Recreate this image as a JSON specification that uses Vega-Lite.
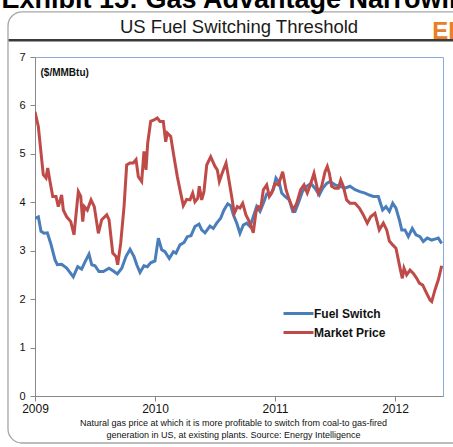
{
  "$schema": "https://vega.github.io/schema/vega-lite/v6.json",
  "width": 408,
  "height": 339,
  "autosize": "none",
  "padding": {"left": 35, "top": 57, "right": 10, "bottom": 51},
  "background": "white",
  "title": {"text": "US Fuel Switching Threshold", "font": "Liberation Sans", "fontSize": 18.5, "fontWeight": "normal", "color": "#1a1a1a", "anchor": "middle", "frame": "group", "offset": -50},
  "config": {"view": {"stroke": "#8eaadb", "strokeWidth": 1}, "font": "Liberation Sans"},
  "datasets": {
    "prices": [
      {"year": 2009.000, "series": "Fuel Switch", "price": 3.67},
      {"year": 2009.028, "series": "Fuel Switch", "price": 3.70},
      {"year": 2009.050, "series": "Fuel Switch", "price": 3.40},
      {"year": 2009.075, "series": "Fuel Switch", "price": 3.36},
      {"year": 2009.103, "series": "Fuel Switch", "price": 3.37},
      {"year": 2009.131, "series": "Fuel Switch", "price": 3.15},
      {"year": 2009.167, "series": "Fuel Switch", "price": 2.81},
      {"year": 2009.186, "series": "Fuel Switch", "price": 2.71},
      {"year": 2009.222, "series": "Fuel Switch", "price": 2.72},
      {"year": 2009.264, "series": "Fuel Switch", "price": 2.64},
      {"year": 2009.319, "series": "Fuel Switch", "price": 2.46},
      {"year": 2009.356, "series": "Fuel Switch", "price": 2.67},
      {"year": 2009.389, "series": "Fuel Switch", "price": 2.62},
      {"year": 2009.417, "series": "Fuel Switch", "price": 2.77},
      {"year": 2009.450, "series": "Fuel Switch", "price": 2.93},
      {"year": 2009.473, "series": "Fuel Switch", "price": 2.71},
      {"year": 2009.500, "series": "Fuel Switch", "price": 2.69},
      {"year": 2009.533, "series": "Fuel Switch", "price": 2.57},
      {"year": 2009.569, "series": "Fuel Switch", "price": 2.57},
      {"year": 2009.617, "series": "Fuel Switch", "price": 2.64},
      {"year": 2009.653, "series": "Fuel Switch", "price": 2.58},
      {"year": 2009.686, "series": "Fuel Switch", "price": 2.52},
      {"year": 2009.723, "series": "Fuel Switch", "price": 2.64},
      {"year": 2009.758, "series": "Fuel Switch", "price": 2.88},
      {"year": 2009.792, "series": "Fuel Switch", "price": 3.03},
      {"year": 2009.825, "series": "Fuel Switch", "price": 2.88},
      {"year": 2009.848, "series": "Fuel Switch", "price": 2.71},
      {"year": 2009.875, "series": "Fuel Switch", "price": 2.55},
      {"year": 2009.908, "series": "Fuel Switch", "price": 2.69},
      {"year": 2009.936, "series": "Fuel Switch", "price": 2.67},
      {"year": 2009.964, "series": "Fuel Switch", "price": 2.75},
      {"year": 2010.000, "series": "Fuel Switch", "price": 2.79},
      {"year": 2010.028, "series": "Fuel Switch", "price": 3.26},
      {"year": 2010.056, "series": "Fuel Switch", "price": 3.02},
      {"year": 2010.083, "series": "Fuel Switch", "price": 2.98},
      {"year": 2010.119, "series": "Fuel Switch", "price": 2.84},
      {"year": 2010.153, "series": "Fuel Switch", "price": 2.98},
      {"year": 2010.175, "series": "Fuel Switch", "price": 2.95},
      {"year": 2010.208, "series": "Fuel Switch", "price": 3.12},
      {"year": 2010.242, "series": "Fuel Switch", "price": 3.17},
      {"year": 2010.269, "series": "Fuel Switch", "price": 3.29},
      {"year": 2010.300, "series": "Fuel Switch", "price": 3.31},
      {"year": 2010.333, "series": "Fuel Switch", "price": 3.50},
      {"year": 2010.367, "series": "Fuel Switch", "price": 3.55},
      {"year": 2010.389, "series": "Fuel Switch", "price": 3.43},
      {"year": 2010.417, "series": "Fuel Switch", "price": 3.37},
      {"year": 2010.458, "series": "Fuel Switch", "price": 3.51},
      {"year": 2010.486, "series": "Fuel Switch", "price": 3.46},
      {"year": 2010.514, "series": "Fuel Switch", "price": 3.57},
      {"year": 2010.547, "series": "Fuel Switch", "price": 3.67},
      {"year": 2010.575, "series": "Fuel Switch", "price": 3.84},
      {"year": 2010.606, "series": "Fuel Switch", "price": 3.97},
      {"year": 2010.631, "series": "Fuel Switch", "price": 3.93},
      {"year": 2010.653, "series": "Fuel Switch", "price": 3.74},
      {"year": 2010.681, "series": "Fuel Switch", "price": 3.57},
      {"year": 2010.708, "series": "Fuel Switch", "price": 3.36},
      {"year": 2010.736, "series": "Fuel Switch", "price": 3.53},
      {"year": 2010.764, "series": "Fuel Switch", "price": 3.57},
      {"year": 2010.792, "series": "Fuel Switch", "price": 3.50},
      {"year": 2010.819, "series": "Fuel Switch", "price": 3.70},
      {"year": 2010.847, "series": "Fuel Switch", "price": 3.91},
      {"year": 2010.875, "series": "Fuel Switch", "price": 3.81},
      {"year": 2010.903, "series": "Fuel Switch", "price": 3.98},
      {"year": 2010.931, "series": "Fuel Switch", "price": 4.17},
      {"year": 2010.958, "series": "Fuel Switch", "price": 4.15},
      {"year": 2010.986, "series": "Fuel Switch", "price": 4.26},
      {"year": 2011.008, "series": "Fuel Switch", "price": 4.50},
      {"year": 2011.036, "series": "Fuel Switch", "price": 4.40},
      {"year": 2011.056, "series": "Fuel Switch", "price": 4.19},
      {"year": 2011.083, "series": "Fuel Switch", "price": 4.12},
      {"year": 2011.119, "series": "Fuel Switch", "price": 4.05},
      {"year": 2011.148, "series": "Fuel Switch", "price": 3.81},
      {"year": 2011.167, "series": "Fuel Switch", "price": 3.81},
      {"year": 2011.194, "series": "Fuel Switch", "price": 3.98},
      {"year": 2011.228, "series": "Fuel Switch", "price": 4.22},
      {"year": 2011.264, "series": "Fuel Switch", "price": 4.33},
      {"year": 2011.298, "series": "Fuel Switch", "price": 4.39},
      {"year": 2011.333, "series": "Fuel Switch", "price": 4.29},
      {"year": 2011.369, "series": "Fuel Switch", "price": 4.15},
      {"year": 2011.397, "series": "Fuel Switch", "price": 4.29},
      {"year": 2011.431, "series": "Fuel Switch", "price": 4.39},
      {"year": 2011.458, "series": "Fuel Switch", "price": 4.43},
      {"year": 2011.500, "series": "Fuel Switch", "price": 4.36},
      {"year": 2011.542, "series": "Fuel Switch", "price": 4.33},
      {"year": 2011.583, "series": "Fuel Switch", "price": 4.29},
      {"year": 2011.625, "series": "Fuel Switch", "price": 4.33},
      {"year": 2011.667, "series": "Fuel Switch", "price": 4.26},
      {"year": 2011.708, "series": "Fuel Switch", "price": 4.22},
      {"year": 2011.750, "series": "Fuel Switch", "price": 4.19},
      {"year": 2011.786, "series": "Fuel Switch", "price": 4.15},
      {"year": 2011.819, "series": "Fuel Switch", "price": 4.12},
      {"year": 2011.861, "series": "Fuel Switch", "price": 4.12},
      {"year": 2011.897, "series": "Fuel Switch", "price": 3.84},
      {"year": 2011.925, "series": "Fuel Switch", "price": 3.91},
      {"year": 2011.953, "series": "Fuel Switch", "price": 3.81},
      {"year": 2011.981, "series": "Fuel Switch", "price": 3.98},
      {"year": 2012.008, "series": "Fuel Switch", "price": 3.88},
      {"year": 2012.036, "series": "Fuel Switch", "price": 3.64},
      {"year": 2012.056, "series": "Fuel Switch", "price": 3.43},
      {"year": 2012.083, "series": "Fuel Switch", "price": 3.43},
      {"year": 2012.111, "series": "Fuel Switch", "price": 3.29},
      {"year": 2012.144, "series": "Fuel Switch", "price": 3.46},
      {"year": 2012.175, "series": "Fuel Switch", "price": 3.33},
      {"year": 2012.208, "series": "Fuel Switch", "price": 3.29},
      {"year": 2012.236, "series": "Fuel Switch", "price": 3.19},
      {"year": 2012.269, "series": "Fuel Switch", "price": 3.26},
      {"year": 2012.306, "series": "Fuel Switch", "price": 3.22},
      {"year": 2012.333, "series": "Fuel Switch", "price": 3.24},
      {"year": 2012.361, "series": "Fuel Switch", "price": 3.26},
      {"year": 2012.389, "series": "Fuel Switch", "price": 3.15},
      {"year": 2009.000, "series": "Market Price", "price": 5.87},
      {"year": 2009.028, "series": "Market Price", "price": 5.56},
      {"year": 2009.056, "series": "Market Price", "price": 4.88},
      {"year": 2009.069, "series": "Market Price", "price": 4.57},
      {"year": 2009.092, "series": "Market Price", "price": 4.50},
      {"year": 2009.106, "series": "Market Price", "price": 4.71},
      {"year": 2009.125, "series": "Market Price", "price": 4.43},
      {"year": 2009.148, "series": "Market Price", "price": 4.12},
      {"year": 2009.175, "series": "Market Price", "price": 4.12},
      {"year": 2009.194, "series": "Market Price", "price": 3.91},
      {"year": 2009.222, "series": "Market Price", "price": 4.15},
      {"year": 2009.236, "series": "Market Price", "price": 3.84},
      {"year": 2009.264, "series": "Market Price", "price": 3.70},
      {"year": 2009.298, "series": "Market Price", "price": 3.60},
      {"year": 2009.325, "series": "Market Price", "price": 3.33},
      {"year": 2009.361, "series": "Market Price", "price": 4.22},
      {"year": 2009.381, "series": "Market Price", "price": 4.12},
      {"year": 2009.398, "series": "Market Price", "price": 3.60},
      {"year": 2009.411, "series": "Market Price", "price": 3.91},
      {"year": 2009.436, "series": "Market Price", "price": 3.84},
      {"year": 2009.467, "series": "Market Price", "price": 4.05},
      {"year": 2009.494, "series": "Market Price", "price": 3.91},
      {"year": 2009.528, "series": "Market Price", "price": 3.36},
      {"year": 2009.556, "series": "Market Price", "price": 3.64},
      {"year": 2009.598, "series": "Market Price", "price": 3.74},
      {"year": 2009.617, "series": "Market Price", "price": 3.64},
      {"year": 2009.648, "series": "Market Price", "price": 2.95},
      {"year": 2009.675, "series": "Market Price", "price": 2.88},
      {"year": 2009.689, "series": "Market Price", "price": 2.71},
      {"year": 2009.714, "series": "Market Price", "price": 3.15},
      {"year": 2009.742, "series": "Market Price", "price": 3.91},
      {"year": 2009.764, "series": "Market Price", "price": 4.77},
      {"year": 2009.792, "series": "Market Price", "price": 4.81},
      {"year": 2009.819, "series": "Market Price", "price": 4.81},
      {"year": 2009.842, "series": "Market Price", "price": 4.88},
      {"year": 2009.861, "series": "Market Price", "price": 4.53},
      {"year": 2009.889, "series": "Market Price", "price": 4.43},
      {"year": 2009.908, "series": "Market Price", "price": 5.05},
      {"year": 2009.925, "series": "Market Price", "price": 4.67},
      {"year": 2009.939, "series": "Market Price", "price": 5.22},
      {"year": 2009.964, "series": "Market Price", "price": 5.67},
      {"year": 2009.992, "series": "Market Price", "price": 5.70},
      {"year": 2010.019, "series": "Market Price", "price": 5.74},
      {"year": 2010.042, "series": "Market Price", "price": 5.67},
      {"year": 2010.069, "series": "Market Price", "price": 5.67},
      {"year": 2010.089, "series": "Market Price", "price": 5.25},
      {"year": 2010.103, "series": "Market Price", "price": 5.43},
      {"year": 2010.131, "series": "Market Price", "price": 5.36},
      {"year": 2010.158, "series": "Market Price", "price": 4.94},
      {"year": 2010.186, "series": "Market Price", "price": 4.53},
      {"year": 2010.214, "series": "Market Price", "price": 4.19},
      {"year": 2010.236, "series": "Market Price", "price": 3.93},
      {"year": 2010.264, "series": "Market Price", "price": 4.06},
      {"year": 2010.292, "series": "Market Price", "price": 4.05},
      {"year": 2010.314, "series": "Market Price", "price": 4.19},
      {"year": 2010.333, "series": "Market Price", "price": 4.01},
      {"year": 2010.356, "series": "Market Price", "price": 4.08},
      {"year": 2010.369, "series": "Market Price", "price": 4.33},
      {"year": 2010.389, "series": "Market Price", "price": 4.05},
      {"year": 2010.408, "series": "Market Price", "price": 4.22},
      {"year": 2010.431, "series": "Market Price", "price": 4.77},
      {"year": 2010.464, "series": "Market Price", "price": 4.94},
      {"year": 2010.500, "series": "Market Price", "price": 4.74},
      {"year": 2010.519, "series": "Market Price", "price": 4.67},
      {"year": 2010.536, "series": "Market Price", "price": 4.43},
      {"year": 2010.564, "series": "Market Price", "price": 4.63},
      {"year": 2010.592, "series": "Market Price", "price": 4.81},
      {"year": 2010.611, "series": "Market Price", "price": 4.53},
      {"year": 2010.639, "series": "Market Price", "price": 4.12},
      {"year": 2010.661, "series": "Market Price", "price": 3.77},
      {"year": 2010.686, "series": "Market Price", "price": 3.91},
      {"year": 2010.708, "series": "Market Price", "price": 3.88},
      {"year": 2010.731, "series": "Market Price", "price": 3.98},
      {"year": 2010.758, "series": "Market Price", "price": 3.74},
      {"year": 2010.792, "series": "Market Price", "price": 3.57},
      {"year": 2010.819, "series": "Market Price", "price": 3.37},
      {"year": 2010.842, "series": "Market Price", "price": 3.81},
      {"year": 2010.861, "series": "Market Price", "price": 3.91},
      {"year": 2010.881, "series": "Market Price", "price": 3.88},
      {"year": 2010.903, "series": "Market Price", "price": 4.26},
      {"year": 2010.931, "series": "Market Price", "price": 4.36},
      {"year": 2010.953, "series": "Market Price", "price": 4.12},
      {"year": 2010.972, "series": "Market Price", "price": 4.19},
      {"year": 2011.000, "series": "Market Price", "price": 4.39},
      {"year": 2011.028, "series": "Market Price", "price": 4.36},
      {"year": 2011.064, "series": "Market Price", "price": 4.63},
      {"year": 2011.092, "series": "Market Price", "price": 4.26},
      {"year": 2011.119, "series": "Market Price", "price": 4.05},
      {"year": 2011.153, "series": "Market Price", "price": 3.84},
      {"year": 2011.181, "series": "Market Price", "price": 3.98},
      {"year": 2011.214, "series": "Market Price", "price": 4.26},
      {"year": 2011.242, "series": "Market Price", "price": 4.36},
      {"year": 2011.269, "series": "Market Price", "price": 4.19},
      {"year": 2011.298, "series": "Market Price", "price": 4.39},
      {"year": 2011.325, "series": "Market Price", "price": 4.60},
      {"year": 2011.361, "series": "Market Price", "price": 4.19},
      {"year": 2011.389, "series": "Market Price", "price": 4.33},
      {"year": 2011.417, "series": "Market Price", "price": 4.63},
      {"year": 2011.436, "series": "Market Price", "price": 4.74},
      {"year": 2011.453, "series": "Market Price", "price": 4.60},
      {"year": 2011.472, "series": "Market Price", "price": 4.33},
      {"year": 2011.500, "series": "Market Price", "price": 4.29},
      {"year": 2011.528, "series": "Market Price", "price": 4.29},
      {"year": 2011.548, "series": "Market Price", "price": 4.46},
      {"year": 2011.569, "series": "Market Price", "price": 4.33},
      {"year": 2011.597, "series": "Market Price", "price": 4.05},
      {"year": 2011.625, "series": "Market Price", "price": 3.98},
      {"year": 2011.667, "series": "Market Price", "price": 3.98},
      {"year": 2011.703, "series": "Market Price", "price": 3.88},
      {"year": 2011.736, "series": "Market Price", "price": 3.74},
      {"year": 2011.769, "series": "Market Price", "price": 3.57},
      {"year": 2011.797, "series": "Market Price", "price": 3.70},
      {"year": 2011.833, "series": "Market Price", "price": 3.77},
      {"year": 2011.869, "series": "Market Price", "price": 3.43},
      {"year": 2011.903, "series": "Market Price", "price": 3.57},
      {"year": 2011.931, "series": "Market Price", "price": 3.43},
      {"year": 2011.953, "series": "Market Price", "price": 3.20},
      {"year": 2011.981, "series": "Market Price", "price": 3.12},
      {"year": 2012.008, "series": "Market Price", "price": 3.05},
      {"year": 2012.028, "series": "Market Price", "price": 2.81},
      {"year": 2012.042, "series": "Market Price", "price": 2.64},
      {"year": 2012.061, "series": "Market Price", "price": 2.43},
      {"year": 2012.075, "series": "Market Price", "price": 2.64},
      {"year": 2012.097, "series": "Market Price", "price": 2.50},
      {"year": 2012.125, "series": "Market Price", "price": 2.60},
      {"year": 2012.153, "series": "Market Price", "price": 2.53},
      {"year": 2012.181, "series": "Market Price", "price": 2.43},
      {"year": 2012.203, "series": "Market Price", "price": 2.33},
      {"year": 2012.231, "series": "Market Price", "price": 2.29},
      {"year": 2012.264, "series": "Market Price", "price": 2.12},
      {"year": 2012.292, "series": "Market Price", "price": 1.98},
      {"year": 2012.306, "series": "Market Price", "price": 1.95},
      {"year": 2012.333, "series": "Market Price", "price": 2.19},
      {"year": 2012.361, "series": "Market Price", "price": 2.40},
      {"year": 2012.389, "series": "Market Price", "price": 2.69}
    ]
  },
  "layer": [
    {
      "data": {"values": [{}]},
      "mark": {"type": "rect", "fillOpacity": 0, "stroke": "#a6a6a6", "strokeWidth": 1.3, "cornerRadius": 14, "clip": false},
      "encoding": {
        "x": {"datum": 2008.775, "type": "quantitative", "scale": {"domain": [2009, 2012.4]}},
        "x2": {"datum": 2012.7},
        "y": {"datum": 7.93, "type": "quantitative", "scale": {"domain": [0, 7]}},
        "y2": {"datum": -0.97}
      }
    },
    {
      "data": {"values": [{}]},
      "mark": {"type": "rule", "color": "#3a3a3a", "strokeWidth": 2.5, "clip": false},
      "encoding": {
        "x": {"datum": 2008.78, "type": "quantitative", "scale": {"domain": [2009, 2012.4]}},
        "x2": {"datum": 2012.6},
        "y": {"datum": 7.345, "type": "quantitative", "scale": {"domain": [0, 7]}}
      }
    },
    {
      "data": {"values": [{"label": "Exhibit 15: Gas Advantage Narrowing"}]},
      "mark": {"type": "text", "align": "left", "baseline": "alphabetic", "fontSize": 27, "fontWeight": "bold", "color": "#000000", "font": "Liberation Sans", "clip": false},
      "encoding": {
        "text": {"field": "label"},
        "x": {"datum": 2008.72, "type": "quantitative", "scale": {"domain": [2009, 2012.4]}},
        "y": {"datum": 8.01, "type": "quantitative", "scale": {"domain": [0, 7]}}
      }
    },
    {
      "data": {"values": [{"label": "EI"}]},
      "mark": {"type": "text", "align": "left", "baseline": "alphabetic", "fontSize": 24, "fontWeight": "bold", "color": "#e8802a", "font": "Liberation Sans", "clip": false},
      "encoding": {
        "text": {"field": "label"},
        "x": {"datum": 2012.31, "type": "quantitative", "scale": {"domain": [2009, 2012.4]}},
        "y": {"datum": 7.38, "type": "quantitative", "scale": {"domain": [0, 7]}}
      }
    },
    {
      "data": {"name": "prices"},
      "mark": {"type": "line", "strokeWidth": 3, "clip": true},
      "encoding": {
        "x": {
          "field": "year", "type": "quantitative",
          "scale": {"domain": [2009, 2012.4], "nice": false, "zero": false},
          "axis": {
            "values": [2009, 2010, 2011, 2012], "format": "d", "labelFontSize": 12, "labelColor": "#111111",
            "labelFlush": false, "tickSize": 5, "tickColor": "#888888", "domainColor": "#888888", "labelPadding": 2,
            "gridColor": "#8c8c8c", "gridWidth": 1,
            "title": ["Natural gas price at which it is more profitable to switch from coal-to gas-fired", "generation in US, at existing plants. Source: Energy Intelligence"],
            "titleFontSize": 9, "titleFontWeight": "normal", "titleColor": "#111111", "titleLineHeight": 12, "titlePadding": 4, "titleX": 198
          }
        },
        "y": {
          "field": "price", "type": "quantitative",
          "scale": {"domain": [0, 7], "nice": false},
          "axis": {
            "values": [0, 1, 2, 3, 4, 5, 6, 7], "labelFontSize": 11, "labelColor": "#111111", "tickSize": 5,
            "tickColor": "#888888", "domainColor": "#888888", "labelPadding": 5,
            "gridColor": {"condition": {"test": "datum.value === 7", "value": "#8eaadb"}, "value": "#8c8c8c"},
            "gridWidth": 1,
            "title": "($/MMBtu)", "titleAngle": 0, "titleAlign": "left", "titleBaseline": "middle",
            "titleX": 5, "titleY": 15, "titleFontSize": 10, "titleFontWeight": "bold", "titleColor": "#111111"
          }
        },
        "color": {
          "field": "series", "type": "nominal",
          "scale": {"domain": ["Fuel Switch", "Market Price"], "range": ["#4a7ebb", "#be4b48"]},
          "legend": {
            "orient": "none", "legendX": 252, "legendY": 245, "title": null, "symbolType": "M-1.5,0H1.5",
            "symbolStrokeWidth": 3, "symbolSize": 400, "labelFontSize": 12, "labelFontWeight": "bold",
            "labelColor": "#111111", "labelOffset": 4, "rowPadding": 1
          }
        }
      }
    }
  ]
}
